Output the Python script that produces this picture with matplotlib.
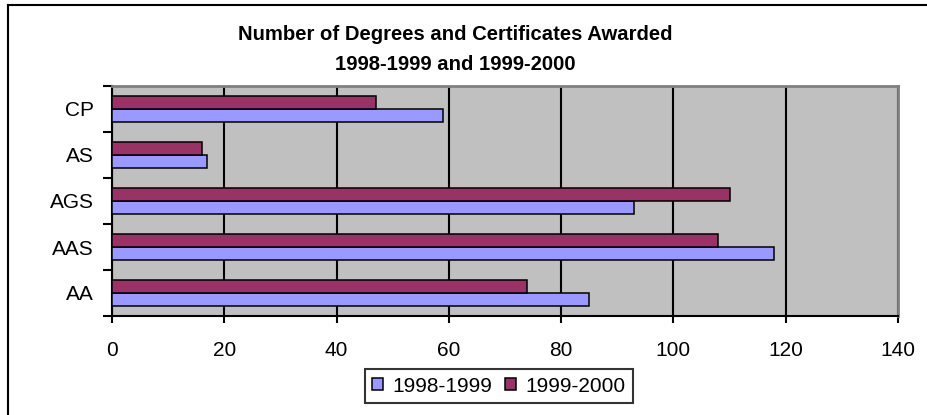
import numpy as np
import matplotlib
matplotlib.use("Agg")
import matplotlib.pyplot as plt
from matplotlib.lines import Line2D

plt.rcParams['font.family'] = ['Liberation Sans', 'DejaVu Sans']

# data
categories = ["AA", "AAS", "AGS", "AS", "CP"]
values9899 = [85, 118, 93, 17, 59]
values9900 = [74, 108, 110, 16, 47]
seriesNames = ["1998-1999", "1999-2000"]
xTicks = [0, 20, 40, 60, 80, 100, 120, 140]

W, H = 927, 415
fig = plt.figure(figsize=(W/100, H/100), dpi=100)
ax = fig.add_axes([112/W, 1-316/H, (898-112)/W, (316-86)/H])
ax.set_facecolor("#C0C0C0")

yPos = np.arange(len(categories))
barH = 0.29
ax.barh(yPos - barH/2, values9899, height=barH, color="#9999FF",
		edgecolor="black", linewidth=1.1, label=seriesNames[0], zorder=3)
ax.barh(yPos + barH/2, values9900, height=barH, color="#993366",
		edgecolor="black", linewidth=1.1, label=seriesNames[1], zorder=3)

ax.set_xlim(0, 140)
ax.set_ylim(-0.5, len(categories)-0.5)
ax.set_xticks(xTicks)
ax.set_xticklabels([str(t) for t in xTicks], fontsize=15)
ax.set_yticks(yPos)
ax.set_yticklabels(categories, fontsize=15)
ax.set_yticks(np.arange(-0.5, len(categories), 1.0), minor=True)
ax.tick_params(axis="y", which="major", length=0, pad=13)
ax.tick_params(axis="y", which="minor", length=6.5, width=1.5, color="black")
ax.tick_params(axis="x", which="major", length=5, width=1.5, pad=13)
ax.xaxis.grid(True, color="black", linewidth=1.5, zorder=1)
ax.set_axisbelow(True)

for s in ["top", "right"]:
	ax.spines[s].set_color("#808080")
	ax.spines[s].set_linewidth(2)
for s in ["left", "bottom"]:
	ax.spines[s].set_color("black")
	ax.spines[s].set_linewidth(1.5)

fig.text(455/W, 1-34/H, "Number of Degrees and Certificates Awarded",
		 ha="center", va="center", fontsize=14.6, fontweight="bold")
fig.text(455/W, 1-65/H, "1998-1999 and 1999-2000",
		 ha="center", va="center", fontsize=14.6, fontweight="bold")

leg = fig.legend(loc="center", bbox_to_anchor=(499/W, 1-386/H), ncol=2,
				 fontsize=15, frameon=True, fancybox=False, edgecolor="black",
				 handlelength=0.5, handleheight=0.5, handletextpad=0.48,
				 columnspacing=0.62, borderpad=0.35, borderaxespad=0)
leg.get_frame().set_linewidth(1.5)

# outer chart frame
fig.add_artist(Line2D([8/W, 8/W], [0, 1-5/H], color="black", linewidth=1.5, transform=fig.transFigure))
fig.add_artist(Line2D([8/W, 1], [1-5/H, 1-5/H], color="black", linewidth=1.5, transform=fig.transFigure))

fig.savefig("out.png", dpi=100, facecolor="white")
